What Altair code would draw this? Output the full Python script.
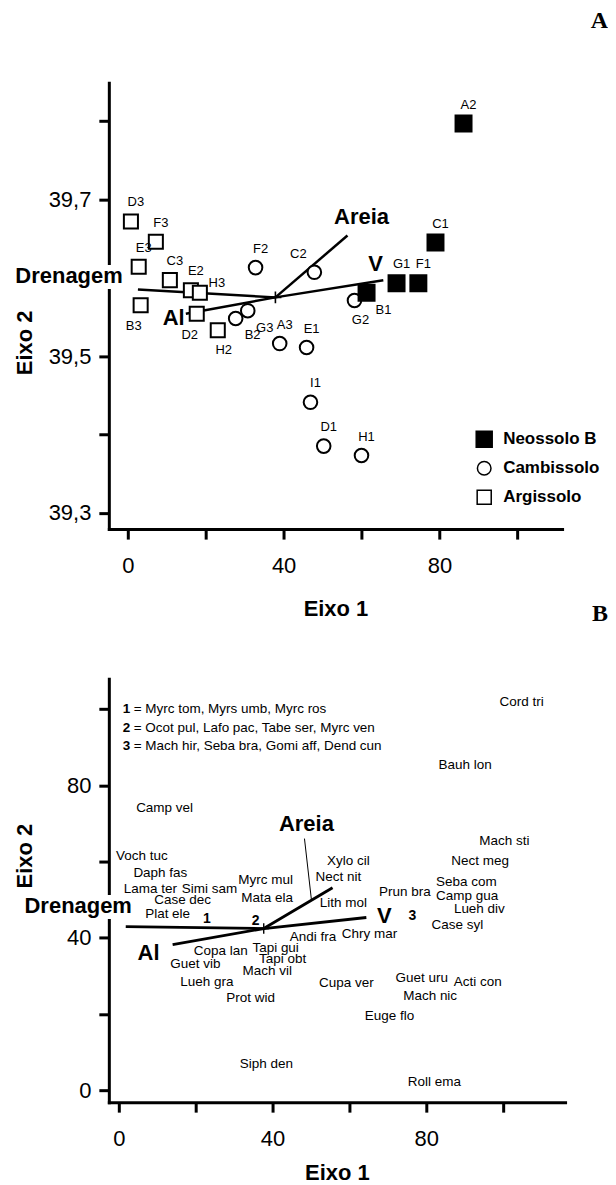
import altair as alt
import pandas as pd

FONT = "Liberation Sans"

# ---------------- Panel A : sites ----------------
site_ids = ["D3", "F3", "E3", "C3", "E2", "H3", "B3", "D2", "H2",
            "F2", "C2", "B2", "G3", "A3", "E1", "G2", "I1", "D1", "H1",
            "A2", "C1", "G1", "F1", "B1"]
site_soil = ["Argissolo"] * 9 + ["Cambissolo"] * 10 + ["Neossolo B"] * 5
site_x = [0.8, 7.2, 2.8, 10.8, 16.2, 18.5, 3.3, 17.7, 23.1,
          32.8, 47.9, 27.7, 30.8, 39.0, 45.9, 58.2, 46.9, 50.3, 60.0,
          86.2, 79.0, 69.0, 74.6, 61.3]
site_y = [39.672, 39.646, 39.614, 39.597, 39.584, 39.581, 39.565, 39.554, 39.533,
          39.613, 39.607, 39.548, 39.558, 39.516, 39.511, 39.571, 39.441, 39.385, 39.373,
          39.797, 39.645, 39.593, 39.593, 39.581]
site_label_pos = ["n", "n", "n", "n", "n", "e", "sw", "sw", "s",
                  "n", "nw", "se", "se", "n", "n", "s", "n", "n", "n",
                  "n", "n", "n", "n", "se"]
soil_order = ["Neossolo B", "Cambissolo", "Argissolo"]

vec_names = ["Drenagem", "Al", "Areia", "V"]
vec_align = ["right", "right", "center", "center"]
vecA_x0 = 37.9
vecA_y0 = 39.575
vecA_x = [2.6, 14.9, 56.4, 65.6]
vecA_y = [39.585, 39.554, 39.654, 39.597]
vecA_lx = [-1.3, 14.6, 60.0, 63.6]
vecA_ly = [39.602, 39.549, 39.678, 39.617]

# ---------------- Panel B : species ----------------
sp_names = ["Cord tri", "Bauh lon", "Camp vel", "Mach sti", "Voch tuc", "Nect meg",
            "Xylo cil", "Daph fas", "Nect nit", "Myrc mul", "Seba com", "Lama ter",
            "Simi sam", "Prun bra", "Camp gua", "Mata ela", "Case dec", "Lith mol",
            "Lueh div", "Plat ele", "Case syl", "Chry mar", "Andi fra", "Tapi gui",
            "Copa lan", "Tapi obt", "Guet vib", "Mach vil", "Guet uru", "Lueh gra",
            "Acti con", "Cupa ver", "Mach nic", "Prot wid", "Euge flo", "Siph den",
            "Roll ema"]
sp_x = [104.8, 90.1, 11.9, 100.3, 6.0, 94.0,
        59.7, 10.8, 57.1, 38.2, 90.4, 8.2,
        23.6, 74.4, 90.6, 38.6, 16.6, 58.4,
        93.8, 12.7, 88.1, 65.2, 50.5, 40.8,
        26.5, 42.6, 19.9, 38.6, 78.8, 22.9,
        93.4, 59.2, 81.0, 34.3, 70.4, 38.4,
        82.1]
sp_y = [101.8, 85.3, 74.1, 65.4, 61.5, 60.2,
        60.2, 57.1, 55.8, 55.2, 54.7, 52.9,
        52.9, 52.1, 51.0, 50.5, 50.0, 49.0,
        47.4, 46.1, 43.2, 41.1, 40.1, 37.4,
        36.6, 34.3, 33.2, 31.2, 29.3, 28.3,
        28.3, 28.0, 24.6, 24.1, 19.4, 6.8,
        2.1]
grp_names = ["1", "2", "3"]
grp_x = [22.9, 35.6, 76.4]
grp_y = [45.0, 44.5, 45.8]
key_nums = ["1", "2", "3"]
key_texts = ["= Myrc tom, Myrs umb, Myrc ros",
             "= Ocot pul, Lafo pac, Tabe ser, Myrc ven",
             "= Mach hir, Seba bra, Gomi aff, Dend cun"]
key_x = [1.0, 1.0, 1.0]
key_y = [100.0, 95.0, 90.3]

vecB_x0 = 37.7
vecB_y0 = 42.4
vecB_x = [1.8, 14.0, 55.6, 64.4]
vecB_y = [42.9, 38.2, 53.1, 45.3]
vecB_lx = [3.4, 10.6, 48.8, 69.1]
vecB_ly = [48.2, 36.1, 69.9, 45.8]
leader_x = [48.3]
leader_y = [66.0]
leader_x2 = [50.1]
leader_y2 = [50.0]

# ---------------- helpers ----------------
def axis_common():
    return dict(domainColor="black", domainWidth=3, domainCap="square",
                tickColor="black", tickWidth=3, tickSize=10, grid=False,
                labelFont=FONT, labelFontSize=22, labelColor="black",
                labelFlush=False, labelOverlap=False, labelBound=False,
                titleFont=FONT, titleFontSize=22, titleFontWeight="bold",
                titleColor="black")


def make_x_axis(title_y):
    return alt.Axis(values=[0, 20, 40, 60, 80, 100], format="d",
                    labelExpr="datum.value % 40 == 0 ? datum.label : ''",
                    labelPadding=16, title="Eixo 1", titleY=title_y,
                    titleBaseline="middle", **axis_common())


axAy = alt.Axis(values=[39.3, 39.4, 39.5, 39.6, 39.7, 39.8], format=".1f",
                labelExpr="(datum.label == '39.3' || datum.label == '39.5' || datum.label == '39.7') ? replace(datum.label, '.', ',') : ''",
                labelPadding=8, title="Eixo 2", titleAngle=270, titleX=-84, titleY=260,
                titleAlign="center", titleBaseline="middle", **axis_common())
axBy = alt.Axis(values=[0, 20, 40, 60, 80, 100], format="d",
                labelExpr="datum.value % 40 == 0 ? datum.label : ''",
                labelPadding=8, title="Eixo 2", titleAngle=270, titleX=-84, titleY=177,
                titleAlign="center", titleBaseline="middle", **axis_common())
axAx = make_x_axis(80)
axBx = make_x_axis(70)

scAx = alt.Scale(domain=[-4.87, 111.5], nice=False, zero=False)
scAy = alt.Scale(domain=[39.279, 39.849], nice=False, zero=False)
scBx = alt.Scale(domain=[-2.6, 116.1], nice=False, zero=False)
scBy = alt.Scale(domain=[-3.14, 107.9], nice=False, zero=False)

WA, HA = 454, 447
WB, HB = 457, 424

label_offsets = {"n": (5, -19), "s": (6, 20), "sw": (-7, 21),
                 "se": (17, 17), "e": (17, -10), "nw": (-16, -18)}

# symbol outlines (unit box -1..1): full square, smaller circle, slightly smaller square
SHAPE_FULL_SQ = "M-1,-1L1,-1L1,1L-1,1Z"
SHAPE_CIRCLE = "M-0.85,0A0.85,0.85 0 1,0 0.85,0A0.85,0.85 0 1,0 -0.85,0Z"
SHAPE_SQ = "M-0.88,-0.88L0.88,-0.88L0.88,0.88L-0.88,0.88Z"

# ---------------- Panel A chart ----------------
dfA = pd.DataFrame({"site": site_ids, "soil": site_soil, "x": site_x,
                    "y": site_y, "pos": site_label_pos})
vA = pd.DataFrame({"name": vec_names, "align": vec_align,
                   "x0": [vecA_x0] * 4, "y0": [vecA_y0] * 4,
                   "x": vecA_x, "y": vecA_y, "lx": vecA_lx, "ly": vecA_ly})


def XA(f="x"):
    return alt.X(f"{f}:Q", scale=scAx, axis=axAx)


def YA(f="y"):
    return alt.Y(f"{f}:Q", scale=scAy, axis=axAy)


leg = alt.Legend(title=None, orient="none", legendX=367, legendY=348,
                 labelFontSize=17, labelFont=FONT, labelFontWeight="bold",
                 labelColor="black", symbolSize=256, labelOffset=10,
                 rowPadding=8)

halo_A = alt.Chart(vA).transform_filter(alt.datum.name == "Drenagem").mark_text(
    font=FONT, fontSize=22, fontWeight="bold", align="right", baseline="middle",
    fill="white", stroke="white", strokeWidth=12).encode(
    x=XA("lx"), y=YA("ly"), text="name:N")

rules_A = alt.Chart(vA).mark_rule(color="black", strokeWidth=2.5).encode(
    x=XA("x0"), y=YA("y0"), x2="x:Q", y2="y:Q")

center_A = alt.Chart(vA.head(1)).mark_point(
    shape="M-1,0L1,0M0,-1L0,1", size=144, color="black", strokeWidth=1.6,
    filled=False, opacity=1).encode(x=XA("x0"), y=YA("y0"))

pts_A = alt.Chart(dfA).mark_point(
    filled=True, stroke="black", strokeWidth=2, opacity=1, size=256).encode(
    x=XA(), y=YA(),
    shape=alt.Shape("soil:N", scale=alt.Scale(
        domain=soil_order, range=[SHAPE_FULL_SQ, SHAPE_CIRCLE, SHAPE_SQ]),
        legend=leg),
    fill=alt.Fill("soil:N", scale=alt.Scale(domain=soil_order,
                                            range=["black", "white", "white"]),
                  legend=leg))

lab_layers_A = []
for code, (dx, dy) in label_offsets.items():
    lab_layers_A.append(
        alt.Chart(dfA).transform_filter(alt.datum.pos == code).mark_text(
            dx=dx, dy=dy, font=FONT, fontSize=13, color="black",
            align="center", baseline="middle").encode(
            x=XA(), y=YA(), text="site:N"))

vlab_A = []
for al in ["right", "center"]:
    vlab_A.append(
        alt.Chart(vA).transform_filter(alt.datum.align == al).mark_text(
            font=FONT, fontSize=22, fontWeight="bold", align=al,
            baseline="middle", color="black").encode(
            x=XA("lx"), y=YA("ly"), text="name:N"))

chartA = alt.layer(halo_A, rules_A, center_A, pts_A, *lab_layers_A,
                   *vlab_A).properties(
    width=WA, height=HA,
    title=alt.TitleParams("A", anchor="end", frame="group", dx=46, offset=50,
                          font="Liberation Serif", fontSize=24, fontWeight="bold",
                          color="black"))

# ---------------- Panel B chart ----------------
dfB = pd.DataFrame({"name": sp_names, "x": sp_x, "y": sp_y})
gB = pd.DataFrame({"name": grp_names, "x": grp_x, "y": grp_y})
kB = pd.DataFrame({"num": key_nums, "txt": key_texts, "x": key_x, "y": key_y})
vB = pd.DataFrame({"name": vec_names, "align": vec_align,
                   "x0": [vecB_x0] * 4, "y0": [vecB_y0] * 4,
                   "x": vecB_x, "y": vecB_y, "lx": vecB_lx, "ly": vecB_ly})
lB = pd.DataFrame({"x": leader_x, "y": leader_y, "x2": leader_x2, "y2": leader_y2})


def XB(f="x"):
    return alt.X(f"{f}:Q", scale=scBx, axis=axBx)


def YB(f="y"):
    return alt.Y(f"{f}:Q", scale=scBy, axis=axBy)


halo_B = alt.Chart(vB).transform_filter(alt.datum.name == "Drenagem").mark_text(
    font=FONT, fontSize=22, fontWeight="bold", align="right", baseline="middle",
    fill="white", stroke="white", strokeWidth=12).encode(
    x=XB("lx"), y=YB("ly"), text="name:N")

rules_B = alt.Chart(vB).mark_rule(color="black", strokeWidth=2.8).encode(
    x=XB("x0"), y=YB("y0"), x2="x:Q", y2="y:Q")

leader_B = alt.Chart(lB).mark_rule(color="black", strokeWidth=1).encode(
    x=XB("x"), y=YB("y"), x2="x2:Q", y2="y2:Q")

center_B = alt.Chart(vB.head(1)).mark_point(
    shape="M-1,0L1,0M0,-1L0,1", size=110, color="black", strokeWidth=1.4,
    filled=False, opacity=1).encode(x=XB("x0"), y=YB("y0"))

sp_B = alt.Chart(dfB).mark_text(font=FONT, fontSize=13.5, color="black",
                                align="center", baseline="middle").encode(
    x=XB(), y=YB(), text="name:N")

grp_Bl = alt.Chart(gB).mark_text(font=FONT, fontSize=14, fontWeight="bold",
                                 color="black", align="center",
                                 baseline="middle").encode(
    x=XB(), y=YB(), text="name:N")

key_num_B = alt.Chart(kB).mark_text(font=FONT, fontSize=13.5, fontWeight="bold",
                                    color="black", align="left",
                                    baseline="middle").encode(
    x=XB(), y=YB(), text="num:N")
key_txt_B = alt.Chart(kB).mark_text(font=FONT, fontSize=13.5, dx=11,
                                    color="black", align="left",
                                    baseline="middle").encode(
    x=XB(), y=YB(), text="txt:N")

vlab_B = []
for al in ["right", "center"]:
    vlab_B.append(
        alt.Chart(vB).transform_filter(alt.datum.align == al).mark_text(
            font=FONT, fontSize=22, fontWeight="bold", align=al,
            baseline="middle", color="black").encode(
            x=XB("lx"), y=YB("ly"), text="name:N"))

chartB = alt.layer(halo_B, rules_B, leader_B, center_B, sp_B, grp_Bl,
                   key_num_B, key_txt_B, *vlab_B).properties(
    width=WB, height=HB,
    title=alt.TitleParams("B", anchor="end", frame="group", dx=43, offset=53,
                          font="Liberation Serif", fontSize=24, fontWeight="bold",
                          color="black"))

chart = alt.vconcat(chartA, chartB, spacing=150, bounds="flush").properties(
    padding={"left": 6, "top": 0, "right": 0, "bottom": 0}
).configure_view(stroke=None)

chart.save("out.html", embed_options={"renderer": "svg", "actions": False})
